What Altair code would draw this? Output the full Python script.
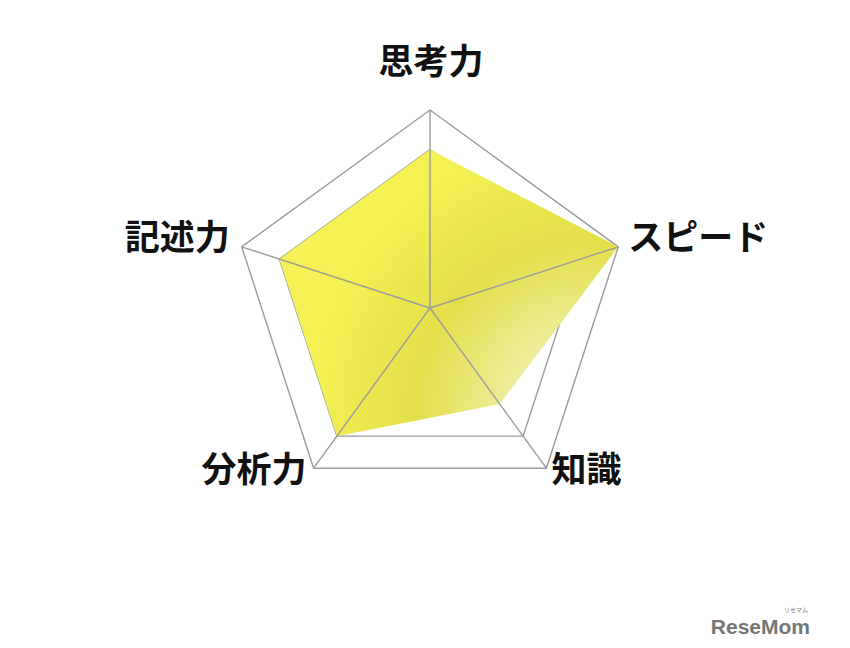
import altair as alt
import pandas as pd

# ---- data ----
axes = ["思考力", "スピード", "知識", "分析力", "記述力"]
values = [4, 5, 3, 4, 4]
grid_levels = [4, 5]
max_value = 5

n = len(axes)
poly_df = pd.DataFrame({"idx": list(range(n)), "axis": axes, "value": values})
grid_df = pd.DataFrame(
    [{"level": lv, "idx": i, "value": lv} for lv in grid_levels for i in range(n)]
)
spoke_df = pd.DataFrame({"idx": list(range(n)), "axis": axes, "value": [max_value] * n})

# ---- layout / scales ----
PX = 39.6          # pixels per value unit
W, H = 834, 628
CX, CY = 422, 300  # centre of the radar in view pixels
xs = alt.Scale(domain=[-CX / PX, (W - CX) / PX], nice=False, zero=False)
ys = alt.Scale(domain=[-(H - CY) / PX, CY / PX], nice=False, zero=False)

FONT = "Noto Sans CJK JP"
GRID = "#9b9b9b"


def polar(ch):
    return ch.transform_calculate(
        ang=f"PI/2 - datum.idx*2*PI/{n}"
    ).transform_calculate(
        px="datum.value*cos(datum.ang)", py="datum.value*sin(datum.ang)"
    )


X = alt.X("px:Q", scale=xs, axis=None)
Y = alt.Y("py:Q", scale=ys, axis=None)

grid = polar(alt.Chart(grid_df)).mark_line(
    interpolate="linear-closed", color=GRID, strokeWidth=1.4
).encode(x=X, y=Y, detail="level:N", order="idx:Q")

fill = alt.RadialGradient(
    gradient="radial",
    x1=0.9, y1=0.85, r1=0.0,
    x2=0.9, y2=0.85, r2=1.0,
    stops=[
        alt.GradientStop(offset=0.0, color="#f6f6cc"),
        alt.GradientStop(offset=0.2, color="#efeea2"),
        alt.GradientStop(offset=0.5, color="#e3e04a"),
        alt.GradientStop(offset=0.8, color="#f3f153"),
        alt.GradientStop(offset=1.0, color="#f4f256"),
    ],
)

polygon = polar(alt.Chart(poly_df)).mark_line(
    interpolate="linear-closed", fill=fill, strokeWidth=0, strokeOpacity=0
).encode(x=X, y=Y, order="idx:Q")

spokes = polar(alt.Chart(spoke_df)).transform_calculate(zero="0").mark_rule(
    color=GRID, strokeWidth=1.4
).encode(
    x=alt.X("zero:Q", scale=xs, axis=None),
    y=alt.Y("zero:Q", scale=ys, axis=None),
    x2="px:Q",
    y2="py:Q",
)


def label(name, align, dx, dy):
    return polar(alt.Chart(spoke_df)).transform_filter(
        alt.datum.axis == name
    ).mark_text(
        align=align, baseline="middle", dx=dx, dy=dy,
        font=FONT, fontSize=35, fontWeight="bold", color="#111111",
    ).encode(x=X, y=Y, text="axis:N")


labels = [
    label("思考力", "center", 1, -47),
    label("スピード", "left", 10, -8),
    label("知識", "left", 5, 3),
    label("分析力", "right", -7, 3),
    label("記述力", "right", -12, -8),
]

wm_df = pd.DataFrame({"t": ["ReseMom"], "s": ["リセマム"]})
watermark = alt.Chart(wm_df).mark_text(
    align="right", baseline="alphabetic", font="Liberation Sans",
    fontSize=21, fontWeight="bold", color="#767676",
).encode(x=alt.value(802), y=alt.value(626), text="t:N")
watermark_small = alt.Chart(wm_df).mark_text(
    align="right", baseline="alphabetic", font=FONT,
    fontSize=6, color="#7b7b7b",
).encode(x=alt.value(800), y=alt.value(604), text="s:N")

chart = alt.layer(grid, polygon, spokes, *labels, watermark, watermark_small).properties(
    width=W, height=H, padding=0
).configure_view(stroke=None)

chart.save("out.html", embed_options={"renderer": "svg", "actions": False})
